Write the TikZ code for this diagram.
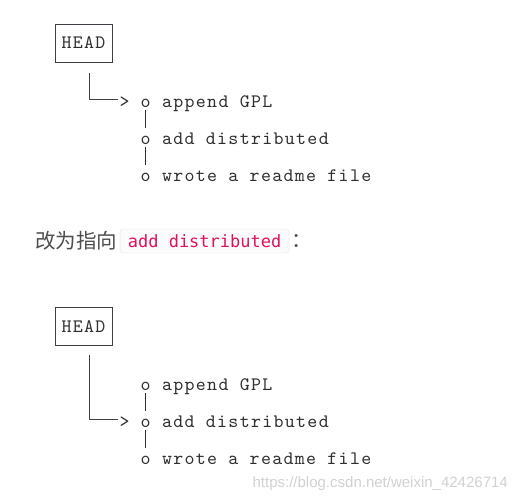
\documentclass[tikz,border=0pt]{standalone}
\usepackage{fontspec}
\newfontfamily\asciifont[LetterSpace=6.9]{lmmono10-regular.otf}
\newfontfamily\cjkfont{Noto Sans CJK SC}
\newfontfamily\codefont{DejaVu Sans Mono}
\newfontfamily\markfont{Liberation Sans}
\usetikzlibrary{positioning}

\definecolor{asciigray}{HTML}{2E2E2E}
\definecolor{linegray}{HTML}{3A3F46}
\definecolor{notegray}{HTML}{4D4D4D}
\definecolor{codepink}{HTML}{E0115F}
\definecolor{codeedge}{HTML}{E3E3E3}
\definecolor{codefill}{HTML}{FBFBFB}

\begin{document}
\begin{tikzpicture}[
    x=1pt, y=-1pt,
    % Define the style for the HEAD boxes
    headbox/.style={
        rectangle,
        draw=linegray,
        line width=1pt,
        text=asciigray,
        font=\fontsize{19}{19}\asciifont,
        minimum width=57pt,
        minimum height=38pt,
        inner sep=0pt
    },
    % Define the style for the ascii characters
    ascii/.style={
        text=asciigray,
        font=\fontsize{19}{19}\asciifont,
        inner sep=0pt,
        anchor=base west
    },
    % Define the style for the lines
    link/.style={
        draw=linegray,
        line width=1pt
    },
    bar/.style={
        draw=asciigray,
        line width=0.9pt,
        shorten <=3pt,
        shorten >=7pt
    },
    note/.style={
        text=notegray,
        font=\fontsize{20.5}{20.5}\cjkfont,
        inner sep=0pt
    },
    code/.style={
        rectangle,
        draw=codeedge,
        fill=codefill,
        rounded corners=3pt,
        text=codepink,
        font=\fontsize{17}{17}\codefont,
        minimum width=169pt,
        minimum height=24pt,
        inner sep=0pt
    }
]
    \useasboundingbox (0,0) rectangle (522,498);

    % First picture: HEAD on append GPL
    \node [headbox] (head1) at (83.5,43) {HEAD};
    \node [ascii] (c1) at (140.5,107) {o};
    \node [ascii] (c2) at (140.5,144) {o};
    \node [ascii] (c3) at (140.5,181) {o};
    \node [ascii, right=11pt of c1.base east, anchor=base west] (m1) {append GPL};
    \node [ascii, right=11pt of c2.base east, anchor=base west] (m2) {add distributed};
    \node [ascii, right=11pt of c3.base east, anchor=base west] (m3) {wrote a readme file};
    \node [ascii, left=10.8pt of c1.base west, anchor=base east] (ptr1) {>};

    \path [bar] (c1.south) -- (c2.north);
    \path [bar] (c2.south) -- (c3.north);
    \path [link] ([xshift=5.5pt, yshift=-10pt]head1.south) |- ([xshift=-1.5pt, yshift=2pt]ptr1.west);

    % Text between the pictures
    \node [note, anchor=west] (say) at (35,241) {改为指向};
    \node [code, right=2.5pt of say.east] (code) {add distributed};
    \node [note, right=1.5pt of code.east] (colon) {：};

    % Second picture: HEAD on add distributed
    \node [headbox] (head2) at (83.5,326.5) {HEAD};
    \node [ascii] (d1) at (140.5,390) {o};
    \node [ascii] (d2) at (140.5,427) {o};
    \node [ascii] (d3) at (140.5,464) {o};
    \node [ascii, right=11pt of d1.base east, anchor=base west] (n1) {append GPL};
    \node [ascii, right=11pt of d2.base east, anchor=base west] (n2) {add distributed};
    \node [ascii, right=11pt of d3.base east, anchor=base west] (n3) {wrote a readme file};
    \node [ascii, left=10.8pt of d2.base west, anchor=base east] (ptr2) {>};

    \path [bar] (d1.south) -- (d2.north);
    \path [bar] (d2.south) -- (d3.north);
    \path [link] ([xshift=5.5pt, yshift=-9pt]head2.south) |- ([xshift=-1.5pt, yshift=2pt]ptr2.west);

    % Watermark
    \node [text=black!18, font=\fontsize{15}{15}\markfont, inner sep=0pt, anchor=east] (mark) at (508,484) {https://blog.csdn.net/weixin\_42426714};
\end{tikzpicture}
\end{document}
